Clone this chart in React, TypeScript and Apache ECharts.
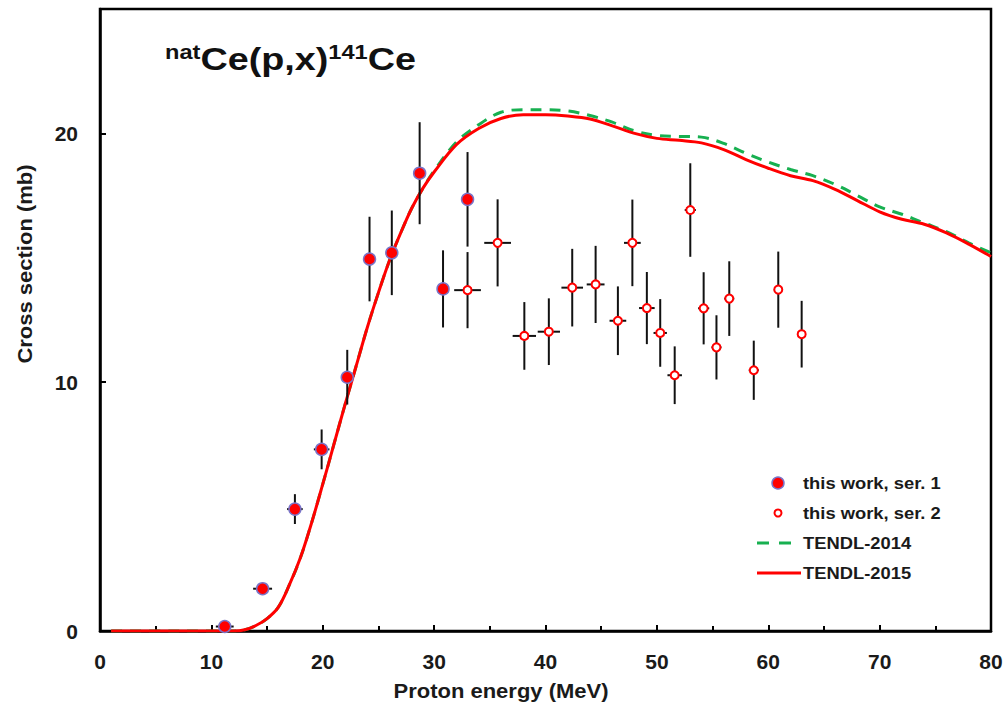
import React, { useEffect, useRef } from "react";
import * as echarts from "echarts";

// ---- Data ----
const ser1E = [11.2, 14.6, 17.5, 19.9, 22.2, 24.2, 26.2, 28.7, 30.8, 33.0];
const ser1V = [0.18, 1.7, 4.9, 7.3, 10.2, 14.95, 15.2, 18.4, 13.75, 17.35];
const ser1Err = [0.1, 0.12, 0.6, 0.8, 1.1, 1.7, 1.7, 2.05, 1.55, 1.9];
const ser1EErr = [0.8, 0.85, 0.7, 0.7, 0.3, 0.3, 0.3, 0.3, 0.3, 0.3];

const ser2E = [33.0, 35.7, 38.1, 40.3, 42.4, 44.5, 46.5, 47.8, 49.1, 50.3, 51.6, 53.0, 54.2, 55.35, 56.5, 58.7, 60.9, 63.0];
const ser2V = [13.7, 15.6, 11.86, 12.03, 13.8, 13.93, 12.47, 15.6, 12.98, 11.98, 10.28, 16.92, 12.97, 11.4, 13.36, 10.48, 13.72, 11.93];
const ser2Err = [1.53, 1.75, 1.36, 1.34, 1.56, 1.55, 1.38, 1.74, 1.45, 1.36, 1.16, 1.88, 1.45, 1.29, 1.5, 1.19, 1.53, 1.34];
const ser2EErr = [1.2, 1.2, 1.05, 1.0, 0.97, 0.8, 0.75, 0.75, 0.7, 0.6, 0.65, 0.5, 0.5, 0.45, 0.45, 0.45, 0.4, 0.35];

const t15E = [1, 5, 10, 12, 13, 14, 15, 16, 17, 18, 19, 20, 21, 22, 23, 24, 25, 26, 27, 28, 29, 30, 32, 34, 36, 38, 40, 42, 44, 46, 48, 50, 52, 54, 56, 58, 60, 62, 64, 66, 68, 70, 72, 74, 76, 78, 80];
const t15V = [0, 0, 0, 0, 0.05, 0.22, 0.5, 0.95, 1.85, 2.95, 4.35, 5.9, 7.5, 9.1, 10.65, 12.2, 13.6, 14.9, 16.0, 17.0, 17.8, 18.45, 19.55, 20.2, 20.6, 20.75, 20.75, 20.7, 20.58, 20.3, 20.0, 19.8, 19.72, 19.62, 19.35, 18.95, 18.6, 18.3, 18.1, 17.75, 17.3, 16.85, 16.55, 16.35, 16.0, 15.55, 15.05];

const t14E = [1, 5, 10, 12, 13, 14, 15, 16, 17, 18, 19, 20, 21, 22, 23, 24, 25, 26, 27, 28, 29, 30, 32, 34, 36, 38, 40, 42, 44, 46, 48, 50, 52, 54, 56, 58, 60, 62, 64, 66, 68, 70, 72, 74, 76, 78, 80];
const t14V = [0, 0, 0, 0, 0.05, 0.22, 0.5, 0.95, 1.85, 2.95, 4.35, 5.9, 7.5, 9.1, 10.65, 12.2, 13.6, 14.9, 16.0, 17.0, 17.8, 18.5, 19.65, 20.35, 20.85, 20.95, 20.95, 20.9, 20.72, 20.45, 20.1, 19.92, 19.88, 19.85, 19.6, 19.2, 18.85, 18.55, 18.3, 17.95, 17.5, 17.05, 16.75, 16.4, 16.05, 15.6, 15.2];

const xTicks = { min: 0, max: 80, interval: 10 };
const yTicks = { min: 0, max: 25, interval: 10 };

const FONT = "'Liberation Sans', Arial, Helvetica, sans-serif";

export default function App() {
  const ref = useRef<HTMLDivElement>(null);
  useEffect(() => {
    if (!ref.current) return;
    const chart = echarts.init(ref.current, undefined, { renderer: "svg" });

    const errData = [
      ...ser1E.map((e, i) => [e, ser1V[i], ser1Err[i], ser1EErr[i]]),
      ...ser2E.map((e, i) => [e, ser2V[i], ser2Err[i], ser2EErr[i]]),
    ];

    const legendText = (text: string, y: number) => ({
      type: "text",
      x: 803,
      y,
      scaleX: 1.08,
      z: 10,
      style: { text, fontFamily: FONT, fontWeight: "bold", fontSize: 17, fill: "#1a1a1a", verticalAlign: "middle" },
    });

    const option: any = {
      animation: false,
      backgroundColor: "#ffffff",
      grid: {
        left: 100,
        top: 9,
        right: 17,
        bottom: 79,
        show: true,
        borderColor: "#000",
        borderWidth: 2.5,
        backgroundColor: "transparent",
      },
      xAxis: {
        type: "value",
        min: xTicks.min,
        max: xTicks.max,
        interval: xTicks.interval,
        axisLine: { show: true, onZero: false, lineStyle: { color: "#000", width: 2.5 } },
        axisTick: { show: true, inside: true, length: 6, lineStyle: { color: "#000", width: 2 } },
        minorTick: { show: true, splitNumber: 2, length: 5, lineStyle: { color: "#000", width: 2 } },
        splitLine: { show: false },
        axisLabel: {
          margin: 20,
          color: "#1a1a1a",
          fontFamily: FONT,
          fontWeight: "bold",
          fontSize: 21,
        },
      },
      yAxis: {
        type: "value",
        min: yTicks.min,
        max: yTicks.max,
        interval: yTicks.interval,
        axisLine: { show: true, onZero: false, lineStyle: { color: "#000", width: 2.5 } },
        axisTick: { show: true, inside: true, length: 6, lineStyle: { color: "#000", width: 2 } },
        splitLine: { show: false },
        axisLabel: {
          margin: 22,
          showMaxLabel: false,
          color: "#1a1a1a",
          fontFamily: FONT,
          fontWeight: "bold",
          fontSize: 21,
          formatter: (v: number) => (v === 25 ? "" : String(v)),
        },
      },
      series: [
        {
          name: "TENDL-2014",
          type: "line",
          data: t14E.map((e, i) => [e, t14V[i]]),
          showSymbol: false,
          smooth: 0.35,
          lineStyle: { color: "#17b050", width: 3, type: [11, 8] },
          z: 2,
        },
        {
          name: "TENDL-2015",
          type: "line",
          data: t15E.map((e, i) => [e, t15V[i]]),
          showSymbol: false,
          smooth: 0.35,
          lineStyle: { color: "#ff0000", width: 3 },
          z: 3,
        },
        {
          name: "errors",
          type: "custom",
          data: errData,
          encode: { x: 0, y: 1 },
          z: 4,
          renderItem: (params: any, api: any) => {
            const x = api.value(0);
            const y = api.value(1);
            const dy = api.value(2);
            const dx = api.value(3);
            const top = api.coord([x, y + dy]);
            const bot = api.coord([x, y - dy]);
            const l = api.coord([x - dx, y]);
            const r = api.coord([x + dx, y]);
            const style = { stroke: "#111", lineWidth: 2 };
            return {
              type: "group",
              children: [
                { type: "line", shape: { x1: top[0], y1: top[1], x2: bot[0], y2: bot[1] }, style },
                { type: "line", shape: { x1: l[0], y1: l[1], x2: r[0], y2: r[1] }, style },
              ],
            };
          },
        },
        {
          name: "this work, ser. 1",
          type: "scatter",
          data: ser1E.map((e, i) => [e, ser1V[i]]),
          symbol: "circle",
          symbolSize: 12,
          itemStyle: { color: "#ff0000", borderColor: "#7a74c8", borderWidth: 1.5, opacity: 1 },
          z: 6,
        },
        {
          name: "this work, ser. 2",
          type: "scatter",
          data: ser2E.map((e, i) => [e, ser2V[i]]),
          symbol: "circle",
          symbolSize: 8,
          itemStyle: { color: "#ffffff", borderColor: "#ff0000", borderWidth: 2, opacity: 1 },
          z: 6,
        },
      ],
      graphic: [
        {
          type: "text",
          x: 165,
          y: 42,
          scaleX: 1.18,
          z: 10,
          style: {
            text: "{sup|nat}{main|Ce(p,x)}{sup|141}{main|Ce}",
            verticalAlign: "top",
            rich: {
              sup: { fontFamily: FONT, fontWeight: "bold", fontSize: 20, lineHeight: 20, verticalAlign: "top", fill: "#111" },
              main: { fontFamily: FONT, fontWeight: "bold", fontSize: 32, lineHeight: 34, fill: "#111" },
            },
          },
        },
        {
          type: "text",
          x: 501,
          y: 691,
          scaleX: 1.1,
          z: 10,
          style: {
            text: "Proton energy (MeV)",
            fontFamily: FONT,
            fontWeight: "bold",
            fontSize: 20,
            fill: "#1a1a1a",
            align: "center",
            verticalAlign: "middle",
          },
        },
        {
          type: "text",
          x: 25,
          y: 264,
          rotation: Math.PI / 2,
          scaleX: 1.1,
          z: 10,
          style: {
            text: "Cross section (mb)",
            fontFamily: FONT,
            fontWeight: "bold",
            fontSize: 20,
            fill: "#1a1a1a",
            align: "center",
            verticalAlign: "middle",
          },
        },
        // legend
        { type: "circle", shape: { cx: 778, cy: 483, r: 6 }, style: { fill: "#ff0000", stroke: "#7a74c8", lineWidth: 1.5 }, z: 10 },
        legendText("this work, ser. 1", 483),
        { type: "circle", shape: { cx: 778, cy: 513, r: 3.5 }, style: { fill: "#ffffff", stroke: "#ff0000", lineWidth: 2 }, z: 10 },
        legendText("this work, ser. 2", 513),
        { type: "line", shape: { x1: 757, y1: 543, x2: 791, y2: 543 }, style: { stroke: "#17b050", lineWidth: 3, lineDash: [12, 10] }, z: 10 },
        legendText("TENDL-2014", 543),
        { type: "line", shape: { x1: 757, y1: 573, x2: 801, y2: 573 }, style: { stroke: "#ff0000", lineWidth: 3 }, z: 10 },
        legendText("TENDL-2015", 573),
      ],
    };
    chart.setOption(option);
    return () => chart.dispose();
  }, []);
  return (
    <div
      ref={ref}
      style={{ position: "fixed", left: 0, top: 0, width: 1008, height: 710, background: "#fff" }}
    />
  );
}
